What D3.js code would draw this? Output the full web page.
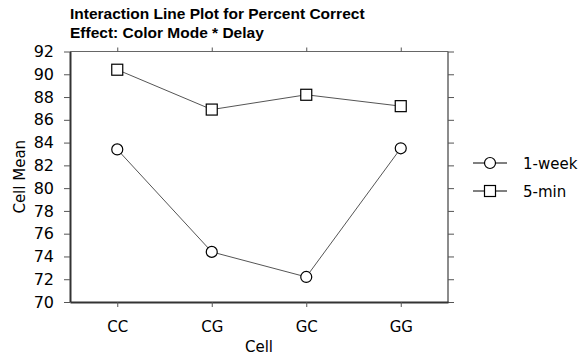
<!DOCTYPE html>
<html>
<head>
<meta charset="utf-8">
<script src="https://cdn.jsdelivr.net/npm/d3@7"></script>
<style>
  body { margin: 0; background: #fff; }
  text { font-family: "DejaVu Sans", Verdana, sans-serif; }
</style>
</head>
<body>
<div id="chart"></div>
<script>
var cells = ["CC", "CG", "GC", "GG"];
var week1 = [83.4, 74.4, 72.2, 83.5];
var min5 = [90.4, 86.9, 88.2, 87.2];
var yTicks = [70, 72, 74, 76, 78, 80, 82, 84, 86, 88, 90, 92];
var seriesNames = ["1-week", "5-min"];

var W = 581, H = 358;
var margin = {top: 51.5, right: 133, bottom: 56, left: 70},
    width = W - margin.left - margin.right,
    height = H - margin.top - margin.bottom;

var svg = d3.select("#chart").append("svg")
  .attr("width", W).attr("height", H);

var g = svg.append("g").attr("transform", "translate(" + margin.left + "," + margin.top + ")");

var x = d3.scalePoint().domain(cells).range([0, width]).padding(0.5);
var y = d3.scaleLinear().domain([70, 92]).range([height, 0]);

// frame: top and right are lighter
g.append("line").attr("x1", 0).attr("x2", width).attr("y1", 0).attr("y2", 0)
  .attr("stroke", "#666").attr("stroke-width", 1);
g.append("line").attr("x1", width).attr("x2", width).attr("y1", 0).attr("y2", height)
  .attr("stroke", "#666").attr("stroke-width", 1.5);

// mirrored ticks
var topAx = g.append("g").call(d3.axisTop(x).tickSize(4).tickFormat(""));
topAx.select(".domain").remove();
topAx.selectAll("line").attr("stroke", "#555");
var rightAx = g.append("g").attr("transform", "translate(" + width + ",0)")
  .call(d3.axisRight(y).tickValues(yTicks).tickSize(6).tickFormat(""));
rightAx.select(".domain").remove();
rightAx.selectAll("line").attr("stroke", "#555");

var leftAx = g.append("g").call(d3.axisLeft(y).tickValues(yTicks).tickSize(6).tickPadding(10).tickSizeOuter(0));
leftAx.select(".domain").attr("stroke", "#333").attr("stroke-width", 2);
leftAx.selectAll("line").attr("stroke", "#555");
leftAx.selectAll("text").attr("font-size", 16).attr("fill", "#000");

var bottomAx = g.append("g").attr("transform", "translate(0," + height + ")")
  .call(d3.axisBottom(x).tickSize(5).tickPadding(14).tickSizeOuter(0));
bottomAx.select(".domain").attr("stroke", "#333").attr("stroke-width", 2);
bottomAx.selectAll("line").attr("stroke", "#555");
bottomAx.selectAll("text").attr("font-size", 15).attr("fill", "#000");

// axis titles
svg.append("text").attr("x", margin.left + width / 2).attr("y", 352)
  .attr("text-anchor", "middle").attr("font-size", 15).text("Cell");
svg.append("text").attr("transform", "translate(25," + (margin.top + height / 2) + ") rotate(-90)")
  .attr("text-anchor", "middle").attr("font-size", 15).text("Cell Mean");

// title
var titleFont = "'Liberation Sans', Arial, sans-serif";
svg.append("text").attr("x", 70).attr("y", 18.5).attr("font-size", 15.5).attr("font-weight", "bold")
  .style("font-family", titleFont)
  .text("Interaction Line Plot for Percent Correct");
svg.append("text").attr("x", 70).attr("y", 37.5).attr("font-size", 15.5).attr("font-weight", "bold")
  .style("font-family", titleFont)
  .text("Effect: Color Mode * Delay");

var line = d3.line().x(function (d, i) { return x(cells[i]); }).y(function (d) { return y(d); });

[week1, min5].forEach(function (vals, si) {
  g.append("path").datum(vals).attr("d", line)
    .attr("fill", "none").attr("stroke", "#555").attr("stroke-width", 1);
  var pts = g.selectAll(".pt" + si).data(vals).enter();
  if (si === 0) {
    pts.append("circle").attr("cx", function (d, i) { return x(cells[i]); })
      .attr("cy", function (d) { return y(d); }).attr("r", 5.5)
      .attr("fill", "#fff").attr("stroke", "#000").attr("stroke-width", 1.2);
  } else {
    pts.append("rect").attr("x", function (d, i) { return x(cells[i]) - 5.5; })
      .attr("y", function (d) { return y(d) - 5.5; }).attr("width", 11).attr("height", 11)
      .attr("fill", "#fff").attr("stroke", "#000").attr("stroke-width", 1.2);
  }
});

// legend
var leg = svg.append("g");
seriesNames.forEach(function (name, i) {
  var ly = 163 + i * 28;
  leg.append("line").attr("x1", 473).attr("x2", 507).attr("y1", ly).attr("y2", ly)
    .attr("stroke", "#000").attr("stroke-width", 1);
  if (i === 0) {
    leg.append("circle").attr("cx", 490).attr("cy", ly).attr("r", 5.5)
      .attr("fill", "#fff").attr("stroke", "#000").attr("stroke-width", 1.2);
  } else {
    leg.append("rect").attr("x", 484.5).attr("y", ly - 5.5).attr("width", 11).attr("height", 11)
      .attr("fill", "#fff").attr("stroke", "#000").attr("stroke-width", 1.2);
  }
  leg.append("text").attr("x", 523).attr("y", ly + 5.5).attr("font-size", 15).text(name);
});
</script>
</body>
</html>
